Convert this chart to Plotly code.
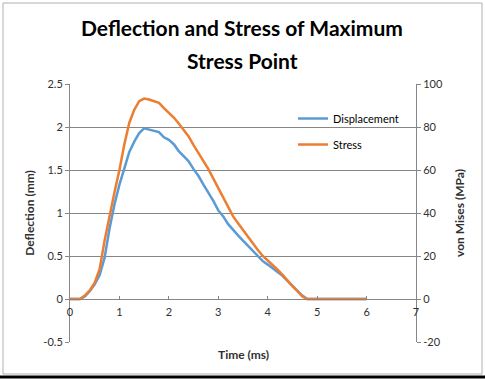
import plotly.graph_objects as go

# ---- data ----
time_ms = [round(i * 0.1, 1) for i in range(61)]
displacement_mm = [0, 0, 0, 0.03, 0.09, 0.17, 0.28, 0.48, 0.82, 1.10,
                   1.33, 1.52, 1.71, 1.83, 1.93, 1.985, 1.97, 1.96, 1.94, 1.88,
                   1.85, 1.80, 1.72, 1.66, 1.60, 1.51, 1.43, 1.33, 1.24, 1.14,
                   1.03, 0.96, 0.87, 0.80, 0.74, 0.68, 0.62, 0.55, 0.49, 0.44,
                   0.40, 0.36, 0.31, 0.27, 0.21, 0.15, 0.10, 0.04, 0.0, 0.0,
                   0, 0, 0, 0, 0, 0, 0, 0, 0, 0, 0]
stress_mpa_scaled = [0, 0, 0, 0.04, 0.10, 0.19, 0.35, 0.68, 0.97, 1.24,
                     1.50, 1.80, 2.05, 2.20, 2.30, 2.33, 2.32, 2.30, 2.28, 2.22,
                     2.17, 2.11, 2.04, 1.97, 1.89, 1.79, 1.70, 1.60, 1.51, 1.40,
                     1.29, 1.18, 1.06, 0.96, 0.88, 0.80, 0.72, 0.64, 0.57, 0.50,
                     0.45, 0.40, 0.34, 0.28, 0.21, 0.15, 0.09, 0.03, 0.0, 0.0,
                     0, 0, 0, 0, 0, 0, 0, 0, 0, 0, 0]
stress_mpa = [v * 40 for v in stress_mpa_scaled]

y_tickvals = [-0.5, 0, 0.5, 1, 1.5, 2, 2.5]
y_ticktext = ["-0.5", "0", "0.5", "1", "1.5", "2", "2.5"]
y2_tickvals = [-20, 0, 20, 40, 60, 80, 100]
y2_ticktext = ["-20", "0", "20", "40", "60", "80", "100"]
x_tickvals = [0, 1, 2, 3, 4, 5, 6, 7]
title_lines = ["Deflection and Stress of Maximum", "Stress Point"]

FONT = "Lato, 'Open Sans', sans-serif"
GRID = "#868686"
BLUE = "#5B9BD5"
ORANGE = "#ED7D31"
TXT = "#303030"

fig = go.Figure()
fig.add_trace(go.Scatter(x=time_ms, y=displacement_mm, mode="lines", name="Displacement",
                         line=dict(color=BLUE, width=2.5), legendgroup="a", yaxis="y"))
fig.add_trace(go.Scatter(x=time_ms, y=stress_mpa, mode="lines", name="Stress",
                         line=dict(color=ORANGE, width=2.5), legendgroup="b", yaxis="y2"))

L, R, T, B = 70, 69, 84, 37
W, H = 485, 379
pw, ph = W - L - R, H - T - B

def px(X):
    return (X - L) / pw

def py(Y):
    return (H - B - Y) / ph

fig.update_layout(
    width=W, height=H,
    margin=dict(l=L, r=R, t=T, b=B, pad=0),
    paper_bgcolor="white", plot_bgcolor="white",
    font=dict(family=FONT, size=11, color=TXT),
    showlegend=True,
    legend=dict(x=px(293), y=py(104), xanchor="left", yanchor="top",
                bgcolor="rgba(0,0,0,0)", traceorder="grouped", tracegroupgap=7,
                font=dict(family=FONT, size=11, color="#000000")),
    xaxis=dict(range=[0, 7], tickvals=x_tickvals, showgrid=False, zeroline=False,
               showline=True, linecolor=GRID, linewidth=1,
               anchor="free", position=1 / 6,
               ticks="inside", ticklen=3, tickcolor=GRID, ticklabelstandoff=3,
               tickfont=dict(size=11, color=TXT), fixedrange=True),
    yaxis=dict(range=[-0.5, 2.5], tickvals=y_tickvals, ticktext=y_ticktext,
               showgrid=True, gridcolor=GRID, gridwidth=1, zeroline=False,
               showline=True, linecolor=GRID, linewidth=1,
               ticks="outside", ticklen=4, tickcolor=GRID,
               tickfont=dict(size=11, color=TXT),
               title=dict(text="<b>Deflection (mm)</b>", font=dict(size=12, color=TXT),
                          standoff=6)),
    yaxis2=dict(range=[-20, 100], tickvals=y2_tickvals, ticktext=y2_ticktext,
                overlaying="y", side="right", showgrid=False, zeroline=False,
                showline=True, linecolor=GRID, linewidth=1,
                ticks="outside", ticklen=4, tickcolor=GRID,
                tickfont=dict(size=11, color=TXT),
                title=dict(text="<b>von Mises (MPa)</b>", font=dict(size=12, color=TXT),
                           standoff=13)),
)

# title lines
for txt, yc in zip(title_lines, [27, 60]):
    fig.add_annotation(text="<b>" + txt + "</b>", xref="paper", yref="paper",
                       x=px(242), y=py(yc), xanchor="center", yanchor="middle",
                       showarrow=False, font=dict(family=FONT, size=21, color="#000000"))

fig.add_annotation(text="<b>Time (ms)</b>", xref="paper", yref="paper",
                   x=px(243), y=py(354), xanchor="center", yanchor="middle",
                   showarrow=False, font=dict(family=FONT, size=12, color=TXT))

# chart outer border
fig.add_shape(type="rect", xref="paper", yref="paper",
              x0=px(3), x1=px(482), y0=py(374), y1=py(3),
              line=dict(color="#b0b0b0", width=1), layer="below")
fig.add_shape(type="line", xref="paper", yref="paper",
              x0=px(0), x1=px(485), y0=py(377), y1=py(377),
              line=dict(color="#000000", width=3))

fig.write_html("out.html")
